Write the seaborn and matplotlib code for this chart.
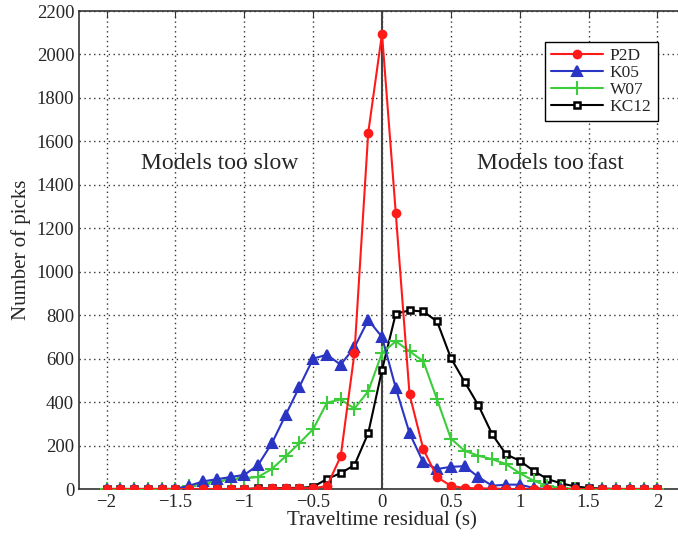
import numpy as np
import pandas as pd
import matplotlib
matplotlib.use("Agg")
import matplotlib.pyplot as plt
import seaborn as sns

# ---- data ----
residual = [-2.0, -1.9, -1.8, -1.7, -1.6, -1.5, -1.4, -1.3, -1.2, -1.1,
            -1.0, -0.9, -0.8, -0.7, -0.6, -0.5, -0.4, -0.3, -0.2, -0.1,
            0.0, 0.1, 0.2, 0.3, 0.4, 0.5, 0.6, 0.7, 0.8, 0.9,
            1.0, 1.1, 1.2, 1.3, 1.4, 1.5, 1.6, 1.7, 1.8, 1.9, 2.0]

p2d = [0, 0, 0, 0, 0, 0, 0, 0, 0, 0, 0, 2, 3, 3, 3, 5,
       12, 150, 625, 1640, 2095, 1270, 435, 183, 55, 14, 5, 3, 2,
       0, 0, 0, 0, 0, 0, 0, 0, 0, 0, 0, 0]

k05 = [0, 0, 0, 0, 0, 0,
       15, 35, 45, 55, 65, 110, 210, 340, 470, 600, 618, 572, 652, 778,
       700, 465, 257, 122, 92, 102, 105, 55, 15, 20, 20, 5,
       0, 0, 0, 0, 0, 0, 0, 0, 0]

w07 = [0, 0, 0, 0, 0, 0,
       15, 25, 35, 45, 50, 55, 92, 150, 211, 275, 397, 412, 370, 450,
       626, 680, 634, 588, 412, 232, 176, 153, 137, 115, 73, 38, 14, 5,
       0, 0, 0, 0, 0, 0, 0]

kc12 = [0, 0, 0, 0, 0, 0, 0, 0, 0, 0, 0,
        3, 3, 5, 5, 10, 46, 73, 110, 257, 547, 807, 822, 817, 771,
        603, 493, 385, 252, 160, 130, 84, 46, 26, 12, 5, 2,
        0, 0, 0, 0]

x_ticks = [-2, -1.5, -1, -0.5, 0, 0.5, 1, 1.5, 2]
y_ticks = [0, 200, 400, 600, 800, 1000, 1200, 1400, 1600, 1800, 2000, 2200]

# ---- style ----
sns.set_style("white")
plt.rcParams['font.family'] = ['Liberation Serif', 'DejaVu Serif']
plt.rcParams['axes.unicode_minus'] = True

fig = plt.figure(figsize=(6.78, 5.5), dpi=100)
ax = fig.add_axes([79 / 678, 1 - 489 / 550, 606 / 678, 478 / 550])

series = [
    ("P2D",  p2d,  "#ff1a1a", "o", 5.5, 6),
    ("K05",  k05,  "#2a35c4", "^", 7.5, 5),
    ("W07",  w07,  "#3ccc3c", "+", 10,  4),
    ("KC12", kc12, "black",   "s", 4.5, 3),
]

for name, vals, color, mk, ms, z in series:
    face = "white" if mk == "s" else color
    mew = 1.8 if mk == "s" else 1.5
    sns.lineplot(x=residual, y=vals, ax=ax, color=color, lw=1.5,
                 marker=mk, markersize=ms, markerfacecolor=face,
                 markeredgecolor=color, markeredgewidth=mew,
                 label=name, zorder=z)

# zero line
ax.axvline(0, color="#444444", lw=1.5, zorder=2)

ax.set_xlim(-2.2, 2.2)
ax.set_ylim(0, 2200)
ax.set_xticks(x_ticks)
ax.set_xticklabels(["\u22122", "\u22121.5", "\u22121", "\u22120.5", "0",
                    "0.5", "1", "1.5", "2"])
ax.set_yticks(y_ticks)
ax.tick_params(direction="in", top=True, right=True, length=5,
               labelsize=13.5, color="#333333")
ax.grid(True, color="black", linestyle=(0, (1, 2.5)), lw=1.0, alpha=0.8)

for sp in ax.spines.values():
    sp.set_color("#333333")
    sp.set_linewidth(1.2)

ax.set_xlabel("Traveltime residual (s)", fontsize=15, labelpad=0)
ax.set_ylabel("Number of picks", fontsize=15, labelpad=4)

ax.text(-1.18, 1500, "Models too slow", fontsize=17, ha="center", va="center")
ax.text(1.22, 1500, "Models too fast", fontsize=17, ha="center", va="center")

leg = ax.legend(loc="upper right", bbox_to_anchor=(0.955, 0.935),
                borderaxespad=0, fontsize=12.5, handlelength=3.0,
                handletextpad=0.4, frameon=True, fancybox=False,
                edgecolor="black", labelspacing=0.05, borderpad=0.35)
leg.get_frame().set_linewidth(1.0)
leg.get_frame().set_alpha(1)

fig.savefig("out.png", dpi=100)
